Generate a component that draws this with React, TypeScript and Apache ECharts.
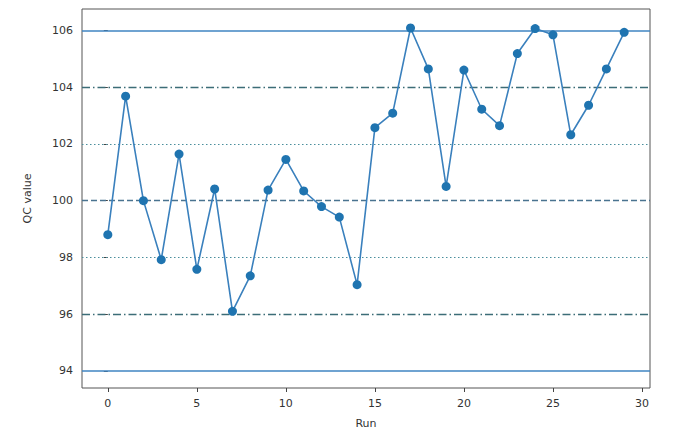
import React, { useEffect, useRef } from "react";
import * as echarts from "echarts";

const qcValues = [
  98.8, 103.68, 100.0, 97.92, 101.64, 97.58, 100.41, 96.1, 97.35, 100.37,
  101.45, 100.34, 99.79, 99.42, 97.04, 102.57, 103.08, 106.08, 104.64, 100.5,
  104.6, 103.22, 102.64, 105.18, 106.06, 105.84, 102.32, 103.36, 104.64, 105.93,
];
const xTicks = [0, 5, 10, 15, 20, 25, 30];
const yTicks = [94, 96, 98, 100, 102, 104, 106];
const solidLimits = [94, 106];
const dashDotLimits = [96, 104];
const dottedLimits = [98, 102];
const meanLine = [100];

export default function App() {
  const ref = useRef<HTMLDivElement>(null);
  useEffect(() => {
    if (!ref.current) return;
    const chart = echarts.init(ref.current, undefined, { renderer: "svg" });
    const font = "DejaVu Sans";
    const mk = (vals: number[], color: string, type: any, width = 1.3) =>
      vals.map((v) => ({ yAxis: v, lineStyle: { color, type, width } }));
    chart.setOption({
      animation: false,
      backgroundColor: "#ffffff",
      grid: {
        left: 82,
        right: 32,
        top: 9,
        bottom: 45,
        outerBoundsMode: "none",
        containLabel: false,
        show: true,
        borderColor: "#555",
        borderWidth: 1,
        backgroundColor: "transparent",
      },
      xAxis: {
        type: "value",
        min: -1.45,
        max: 30.45,
        axisLine: { show: false },
        splitLine: { show: false },
        axisTick: { show: true, length: 4, customValues: xTicks, lineStyle: { color: "#444" } },
        axisLabel: {
          customValues: xTicks,
          color: "#333",
          fontSize: 11,
          fontFamily: font,
          margin: 10,
        },
        name: "Run",
        nameLocation: "middle",
        nameGap: 30,
        nameTextStyle: { color: "#333", fontSize: 11, fontFamily: font },
      },
      yAxis: {
        type: "value",
        min: 93.4,
        max: 106.75,
        axisLine: { show: false },
        splitLine: { show: false },
        axisTick: { show: true, length: 4, customValues: yTicks, lineStyle: { color: "#444" } },
        axisLabel: {
          customValues: yTicks,
          color: "#333",
          fontSize: 11,
          fontFamily: font,
          margin: 9,
        },
        name: "QC value",
        nameLocation: "middle",
        nameGap: 49,
        nameTextStyle: { color: "#333", fontSize: 11, fontFamily: font },
      },
      series: [
        {
          type: "line",
          data: qcValues.map((v, i) => [i, v]),
          symbol: "circle",
          symbolSize: 9,
          itemStyle: { color: "#1f74b0" },
          lineStyle: { color: "#3a80bd", width: 1.6 },
          z: 5,
          markLine: {
            silent: true,
            symbol: ["none", "none"],
            label: { show: false },
            data: [
              ...mk(solidLimits, "#3f84c2", "solid", 1.6),
              ...mk(dashDotLimits, "#3c6d77", [8, 3, 1.5, 3], 1.4),
              ...mk(dottedLimits, "#4a8e9c", [1.5, 2.5], 1.2),
              ...mk(meanLine, "#4a7390", [6, 3], 1.4),
            ],
          },
        },
      ],
    });
    return () => chart.dispose();
  }, []);
  return (
    <div
      ref={ref}
      style={{ position: "fixed", left: 0, top: 0, width: 682, height: 433, background: "#fff" }}
    />
  );
}
